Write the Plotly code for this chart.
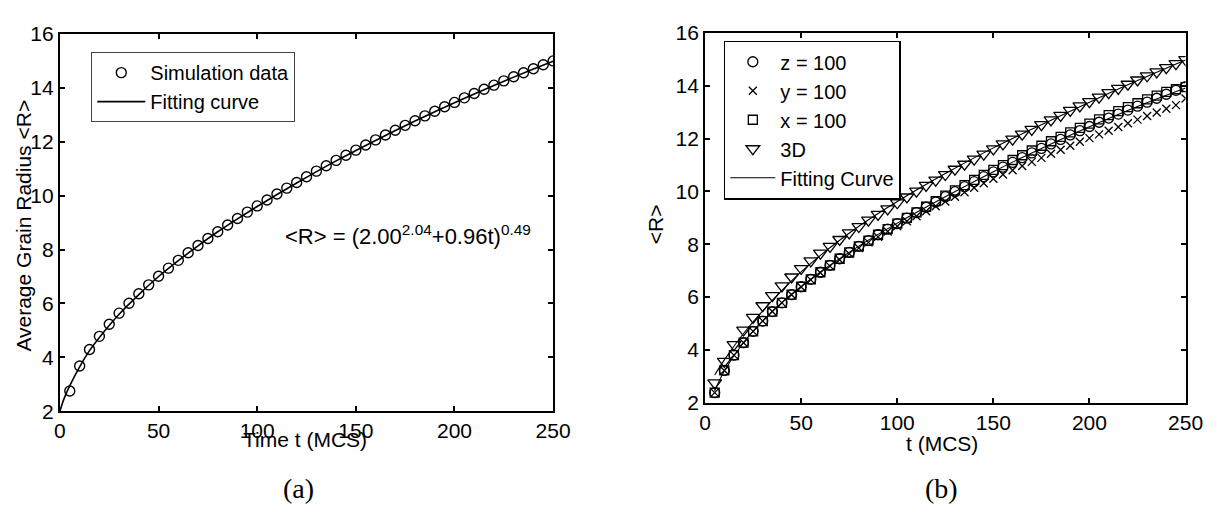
import plotly.graph_objects as go

W, H = 1231, 513

# ---------------- Panel (a) data ----------------
t_sim = [5, 10, 15, 20, 25, 30, 35, 40, 45, 50, 55, 60, 65, 70, 75, 80, 85, 90, 95, 100,
         105, 110, 115, 120, 125, 130, 135, 140, 145, 150, 155, 160, 165, 170, 175, 180,
         185, 190, 195, 200, 205, 210, 215, 220, 225, 230, 235, 240, 245, 250]
r_sim = [2.75, 3.68, 4.29, 4.78, 5.23, 5.64, 6.01, 6.36, 6.69, 7.01, 7.31, 7.60, 7.88, 8.15,
         8.41, 8.66, 8.91, 9.15, 9.39, 9.62, 9.84, 10.06, 10.28, 10.49, 10.70, 10.91, 11.11,
         11.31, 11.50, 11.69, 11.88, 12.07, 12.25, 12.43, 12.61, 12.78, 12.96, 13.13, 13.30,
         13.46, 13.63, 13.79, 13.95, 14.10, 14.26, 14.41, 14.56, 14.71, 14.86, 15.00]
t_fit_a = [0, 2, 5, 10, 15, 20, 30, 40, 50, 60, 70, 80, 90, 100, 120, 140, 160, 180, 200, 220, 240, 250]
r_fit_a = [2.00, 2.45, 2.95, 3.65, 4.25, 4.74, 5.60, 6.33, 7.00, 7.59, 8.14, 8.66, 9.14, 9.60,
           10.47, 11.29, 12.05, 12.77, 13.45, 14.09, 14.70, 14.99]

# ---------------- Panel (b) data ----------------
t_b = t_sim
r_z = [2.38, 3.22, 3.80, 4.27, 4.70, 5.09, 5.45, 5.78, 6.09, 6.39, 6.67, 6.94, 7.20, 7.45,
       7.69, 7.92, 8.14, 8.36, 8.57, 8.78, 8.99, 9.20, 9.40, 9.60, 9.80, 9.99, 10.18, 10.37,
       10.56, 10.74, 10.92, 11.10, 11.28, 11.46, 11.63, 11.80, 11.97, 12.14, 12.30, 12.46,
       12.62, 12.78, 12.93, 13.08, 13.23, 13.38, 13.53, 13.68, 13.83, 13.97]
r_y = [2.38, 3.22, 3.80, 4.27, 4.70, 5.09, 5.45, 5.78, 6.09, 6.38, 6.65, 6.92, 7.17, 7.41,
       7.64, 7.86, 8.07, 8.28, 8.48, 8.68, 8.87, 9.06, 9.25, 9.44, 9.62, 9.80, 9.97, 10.14,
       10.31, 10.48, 10.64, 10.80, 10.96, 11.12, 11.27, 11.43, 11.58, 11.73, 11.88, 12.02,
       12.16, 12.30, 12.44, 12.58, 12.72, 12.86, 12.99, 13.13, 13.27, 13.52]
r_x = [2.38, 3.22, 3.80, 4.27, 4.70, 5.09, 5.45, 5.78, 6.09, 6.39, 6.67, 6.94, 7.20, 7.45,
       7.69, 7.92, 8.14, 8.36, 8.57, 8.78, 9.00, 9.21, 9.42, 9.63, 9.84, 10.04, 10.24, 10.44,
       10.63, 10.82, 11.00, 11.19, 11.37, 11.55, 11.73, 11.90, 12.07, 12.24, 12.41, 12.57,
       12.73, 12.89, 13.04, 13.19, 13.34, 13.49, 13.63, 13.77, 13.87, 13.95]
r_3d = [2.75, 3.56, 4.20, 4.75, 5.23, 5.67, 6.05, 6.42, 6.76, 7.08, 7.37, 7.66, 7.92, 8.18,
        8.43, 8.67, 8.91, 9.13, 9.34, 9.57, 9.79, 10.01, 10.23, 10.43, 10.64, 10.84, 11.03,
        11.22, 11.41, 11.61, 11.80, 11.98, 12.17, 12.35, 12.53, 12.71, 12.88, 13.07, 13.24,
        13.40, 13.57, 13.74, 13.90, 14.06, 14.22, 14.38, 14.53, 14.69, 14.84, 14.99]
t_fit_b = [5, 10, 20, 30, 40, 50, 60, 80, 100, 125, 150, 175, 200, 225, 250]
r_fit_3d = [3.05, 3.62, 4.62, 5.48, 6.25, 6.95, 7.58, 8.68, 9.62, 10.68, 11.65, 12.53, 13.38, 14.20, 14.98]
r_fit_2d = [2.45, 3.20, 4.28, 5.10, 5.80, 6.40, 6.95, 7.93, 8.80, 9.80, 10.75, 11.63, 12.45, 13.22, 13.92]

x_ticks = [0, 50, 100, 150, 200, 250]
y_ticks = [2, 4, 6, 8, 10, 12, 14, 16]

FONT = "Liberation Sans, Arial, sans-serif"

# pixel geometry of the two panels
A = dict(l=55, r=558, t=23, b=418)
B = dict(l=713, r=1203, t=22, b=409)

def dom(p):
    return [p["l"] / W, p["r"] / W], [(H - p["b"]) / H, (H - p["t"]) / H]

ax_dom, ay_dom = dom(A)
bx_dom, by_dom = dom(B)

fig = go.Figure()

# Panel (a)
fig.add_trace(go.Scatter(x=t_sim, y=r_sim, mode="markers", name="Simulation data",
                         marker=dict(symbol="circle-open", size=10, color="black",
                                     line=dict(width=1.4, color="black")),
                         xaxis="x", yaxis="y", legend="legend"))
fig.add_trace(go.Scatter(x=t_fit_a, y=r_fit_a, mode="lines", name="Fitting curve",
                         line=dict(color="black", width=1.6, shape="spline"),
                         xaxis="x", yaxis="y", legend="legend"))

# Panel (b)
mk = dict(color="black", line=dict(width=1.3, color="black"))
fig.add_trace(go.Scatter(x=t_b, y=r_z, mode="markers", name="z = 100",
                         marker=dict(symbol="circle-open", size=10, **mk),
                         xaxis="x2", yaxis="y2", legend="legend2"))
fig.add_trace(go.Scatter(x=t_b, y=r_y, mode="markers", name="y = 100",
                         marker=dict(symbol="x-thin-open", size=8, **mk),
                         xaxis="x2", yaxis="y2", legend="legend2"))
fig.add_trace(go.Scatter(x=t_b, y=r_x, mode="markers", name="x = 100",
                         marker=dict(symbol="square-open", size=9, **mk),
                         xaxis="x2", yaxis="y2", legend="legend2"))
fig.add_trace(go.Scatter(x=t_b, y=r_3d, mode="markers", name="3D",
                         marker=dict(symbol="triangle-down-open", size=12, **mk),
                         xaxis="x2", yaxis="y2", legend="legend2"))
fig.add_trace(go.Scatter(x=t_fit_b, y=r_fit_2d, mode="lines", name="Fitting Curve",
                         line=dict(color="black", width=1.1, shape="spline"),
                         xaxis="x2", yaxis="y2", legend="legend2"))
fig.add_trace(go.Scatter(x=t_fit_b, y=r_fit_3d, mode="lines", name="Fitting Curve 3D",
                         line=dict(color="black", width=1.1, shape="spline"),
                         showlegend=False, xaxis="x2", yaxis="y2"))

axis_common = dict(showline=True, linecolor="black", linewidth=2, mirror="allticks",
                   ticks="inside", ticklen=5, tickwidth=1.5, tickcolor="black",
                   showgrid=False, zeroline=False,
                   tickfont=dict(family=FONT, size=21, color="black"))

fig.update_layout(
    width=W, height=H,
    margin=dict(l=0, r=0, t=0, b=0),
    paper_bgcolor="white", plot_bgcolor="white",
    font=dict(family=FONT, size=21, color="black"),
    xaxis=dict(domain=ax_dom, range=[0, 250], tickvals=x_ticks, anchor="y", **axis_common),
    yaxis=dict(domain=ay_dom, range=[2, 16], tickvals=y_ticks, anchor="x", **axis_common),
    xaxis2=dict(domain=bx_dom, range=[0, 250], tickvals=x_ticks, anchor="y2", **axis_common),
    yaxis2=dict(domain=by_dom, range=[2, 16], tickvals=y_ticks, anchor="x2", **axis_common),
    legend=dict(x=87 / W, y=1 - 42 / H, xanchor="left", yanchor="top",
                bgcolor="white", bordercolor="#444444", borderwidth=1,
                font=dict(family=FONT, size=20, color="black"),
                itemwidth=48, tracegroupgap=0),
    legend2=dict(x=732 / W, y=1 - 30 / H, xanchor="left", yanchor="top",
                 bgcolor="white", bordercolor="black", borderwidth=1.6,
                 font=dict(family=FONT, size=20, color="black"),
                 itemwidth=45, tracegroupgap=0),
    showlegend=True,
)

ann = [
    dict(text="Average Grain Radius &lt;R&gt;", x=18 / W, y=1 - 224 / H, textangle=-90),
    dict(text="Time t (MCS)", x=305 / W, y=1 - 448 / H),
    dict(text="&lt;R&gt;", x=662 / W, y=1 - 222 / H, textangle=-90),
    dict(text="t (MCS)", x=955 / W, y=1 - 452 / H),
]
for a in ann:
    fig.add_annotation(xref="paper", yref="paper", showarrow=False,
                       xanchor="center", yanchor="middle",
                       font=dict(family=FONT, size=21, color="black"), **a)

fig.add_annotation(xref="x", yref="y", x=113, y=8.55, xanchor="left", yanchor="middle",
                   showarrow=False,
                   text="&lt;R&gt; = (2.00<sup>2.04</sup>+0.96t)<sup>0.49</sup>",
                   font=dict(family=FONT, size=22, color="black"))

for lab, xc in (("(a)", 298), ("(b)", 954)):
    fig.add_annotation(xref="paper", yref="paper", x=xc / W, y=1 - 499 / H,
                       xanchor="center", yanchor="middle", showarrow=False, text=lab,
                       font=dict(family="Liberation Serif, serif", size=28, color="black"))

fig.write_html("out.html")
